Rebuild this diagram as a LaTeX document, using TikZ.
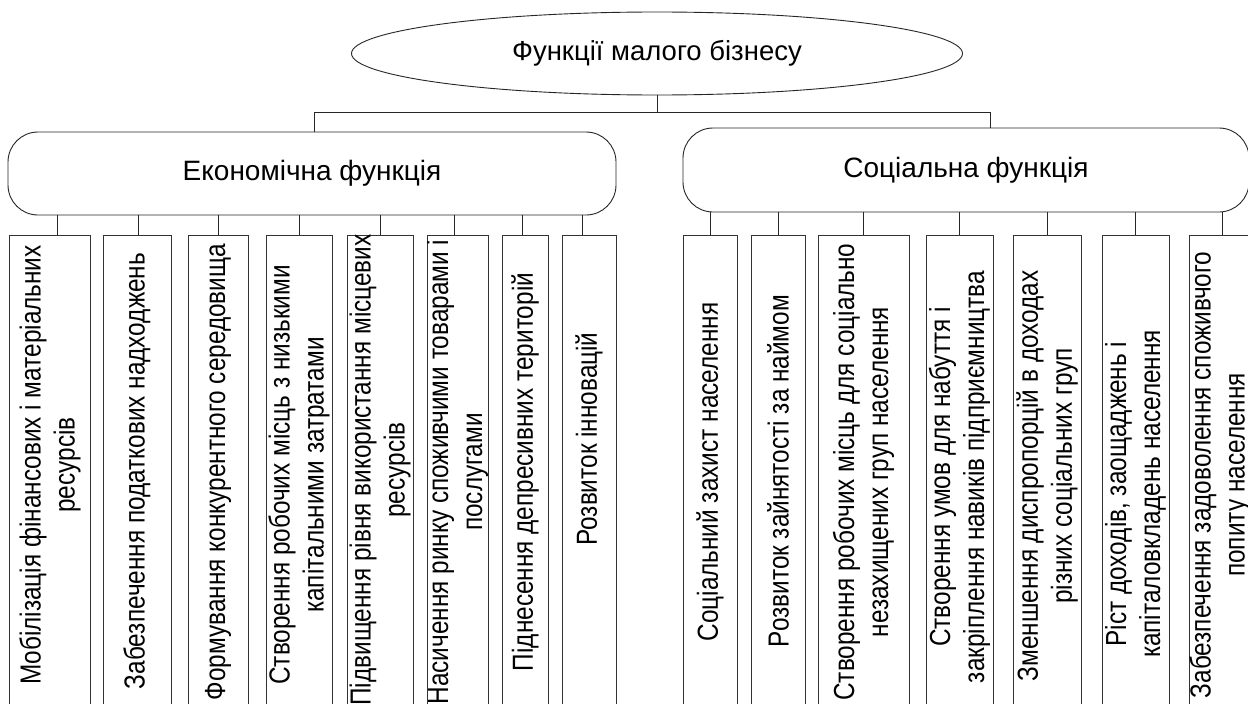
\documentclass[tikz,border=0pt]{standalone}
\usepackage{fontspec}
\setmainfont{Liberation Sans}
\newfontfamily\narrowfont[FakeStretch=0.84]{Liberation Sans}
\usetikzlibrary{shapes.geometric}
\begin{document}
\begin{tikzpicture}[x=1pt,y=-1pt,line width=0.9pt,
  ell/.style={draw=black!85, ellipse, minimum width=611pt, minimum height=83pt, inner sep=0pt, font=\fontsize{27.5}{32}\selectfont},
  bigbox/.style={draw=black!85, rounded corners=30pt, inner sep=0pt, font=\fontsize{28}{32}\selectfont},
  smallbox/.style={draw=black!80, minimum height=485pt, inner sep=0pt},
  vtext/.style={rotate=90, align=center, inner sep=0pt, font=\narrowfont\fontsize{29}{34}\selectfont},
  conn/.style={draw=black!85}]
\useasboundingbox (0,0) rectangle (1248,704);
\clip (0,0) rectangle (1248,704);
\fill[white] (0,0) rectangle (1248,704);

\node[ell] (top) at (657,53.5) {Функції малого бізнесу};
\node[bigbox, minimum width=608pt, minimum height=83pt] (econ) at (312,173.5) {Економічна функція};
\node[bigbox, minimum width=566pt, minimum height=84pt] (social) at (966,170) {Соціальна функція};

\coordinate (busL) at (314,112);
\coordinate (busR) at (990,112);
\draw[conn] (top.south) -- (top.south |- busL);
\draw[conn] (busL |- econ.north) -- (busL) -- (busR) -- (busR |- social.north);

% economic boxes
\node[smallbox, minimum width=81pt] (e1) at (49.5,477.5) {};
\node[smallbox, minimum width=68pt] (e2) at (137,477.5) {};
\node[smallbox, minimum width=60pt] (e3) at (218,477.5) {};
\node[smallbox, minimum width=66pt] (e4) at (299,477.5) {};
\node[smallbox, minimum width=66pt] (e5) at (380,477.5) {};
\node[smallbox, minimum width=61pt] (e6) at (457.5,477.5) {};
\node[smallbox, minimum width=46pt] (e7) at (525,477.5) {};
\node[smallbox, minimum width=54pt] (e8) at (589,477.5) {};

\draw[conn] ([xshift=7.5pt]e1.north) -- ([xshift=7.5pt]e1.north |- econ.south);
\draw[conn] ([xshift=1pt]e2.north) -- ([xshift=1pt]e2.north |- econ.south);
\foreach \n in {e3,e4,e5} \draw[conn] (\n.north) -- (\n.north |- econ.south);
\draw[conn] ([xshift=-3.5pt]e6.north) -- ([xshift=-3.5pt]e6.north |- econ.south);
\draw[conn] ([xshift=-3pt]e7.north) -- ([xshift=-3pt]e7.north |- econ.south);
\draw[conn] ([xshift=-7pt]e8.north) -- ([xshift=-7pt]e8.north |- econ.south);

\node[vtext] (t1) at (50,465) {Мобілізація фінансових і матеріальних\\ресурсів};
\node[vtext] (t2) at (137,471) {Забезпечення податкових надходжень};
\node[vtext] (t3) at (218,472) {Формування конкурентного середовища};
\node[vtext] (t4) at (299,475) {Створення робочих місць з низькими\\капітальними затратами};
\node[vtext] (t5) at (380,470) {Підвищення рівня використання місцевих\\ресурсів};
\node[vtext] (t6) at (457.5,472) {Насичення ринку споживчими товарами і\\послугами};
\node[vtext] (t7) at (525,472) {Піднесення депресивних територій};
\node[vtext] (t8) at (589,439) {Розвиток інновацій};

% social boxes
\node[smallbox, minimum width=54pt] (s1) at (710,477.5) {};
\node[smallbox, minimum width=54pt] (s2) at (778,477.5) {};
\node[smallbox, minimum width=91pt] (s3) at (863.5,477.5) {};
\node[smallbox, minimum width=67pt] (s4) at (959.5,477.5) {};
\node[smallbox, minimum width=68pt] (s5) at (1047,477.5) {};
\node[smallbox, minimum width=67pt] (s6) at (1135.5,477.5) {};
\node[smallbox, minimum width=67pt] (s7) at (1222.5,477.5) {};

\foreach \n in {s1,s2,s3,s4,s5,s6,s7} \draw[conn] (\n.north) -- (\n.north |- social.south);

\node[vtext] (u1) at (710,472) {Соціальний захист населення};
\node[vtext] (u2) at (778,471) {Розвиток зайнятості за наймом};
\node[vtext] (u3) at (863.5,472) {Створення робочих місць для соціально\\незахищених груп населення};
\node[vtext] (u4) at (959.5,477) {Створення умов для набуття і\\закріплення навиків підприємництва};
\node[vtext] (u5) at (1047,476) {Зменшення диспропорцій в доходах\\різних соціальних груп};
\node[vtext] (u6) at (1135.5,494) {Ріст доходів, заощаджень і\\капіталовкладень населення};
\node[vtext] (u7) at (1220,475) {Забезпечення задоволення споживчого\\попиту населення};
\end{tikzpicture}
\end{document}
